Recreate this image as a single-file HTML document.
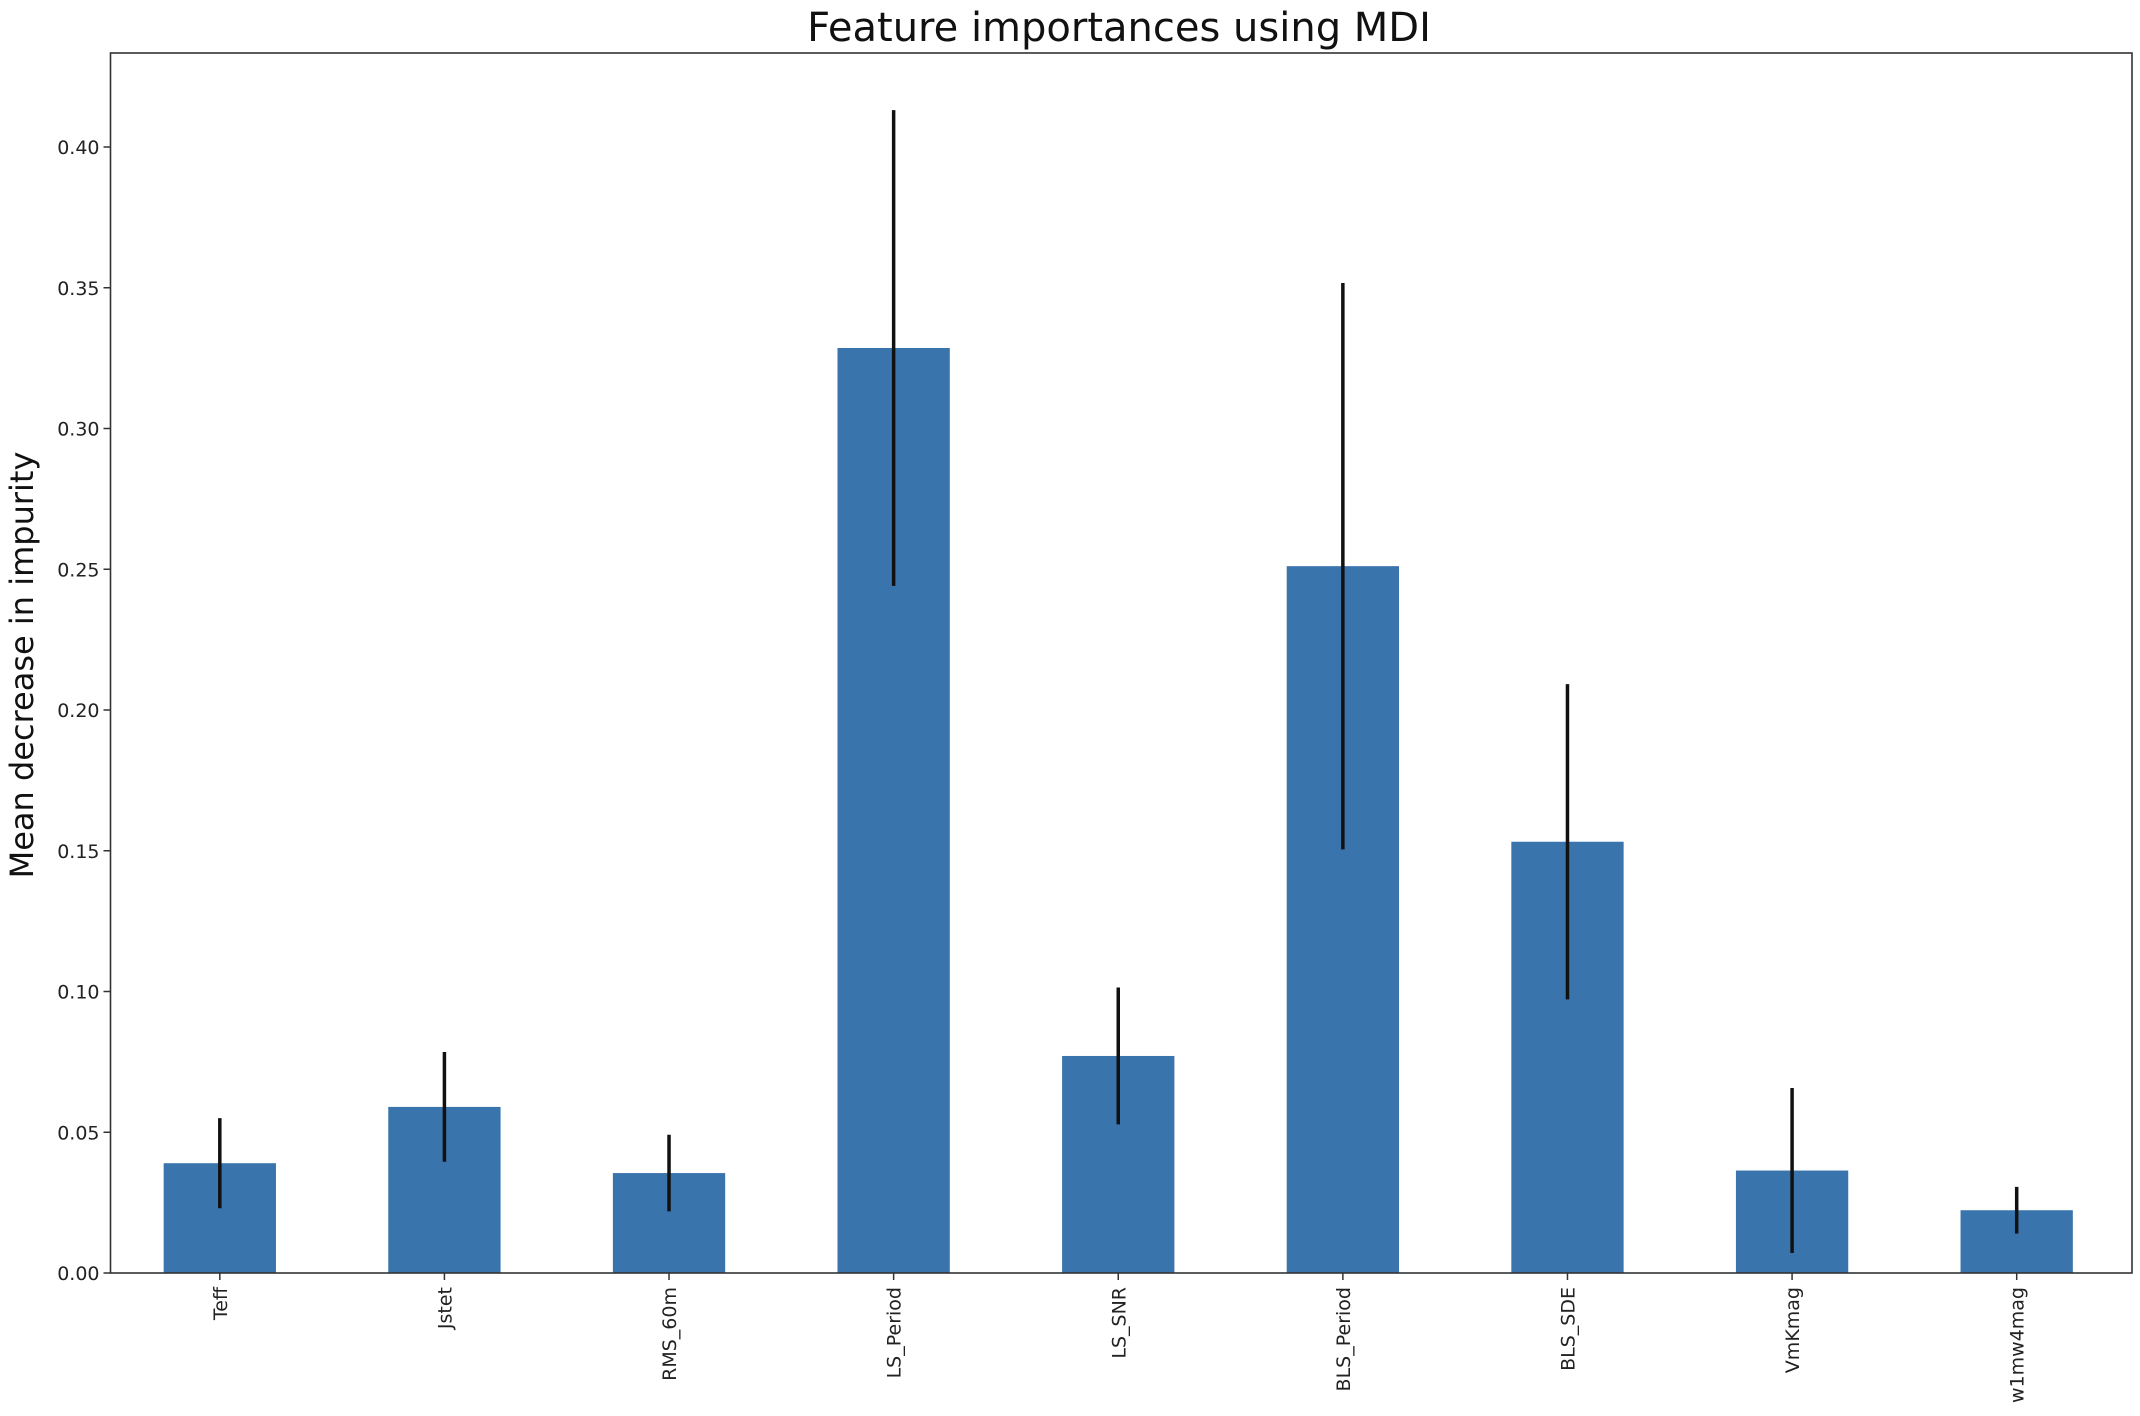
<!DOCTYPE html>
<html><head><meta charset="utf-8"><style>
body{margin:0;background:#fff}
svg{display:block;font-family:"DejaVu Sans","Liberation Sans",sans-serif}
</style></head><body>
<svg id="chart" width="2140" height="1416" viewBox="0 0 2140 1416">
<text x="1119" y="41" font-size="40" text-anchor="middle" fill="#111">Feature importances using MDI</text>
<text transform="translate(33,665) rotate(-90)" font-size="32" text-anchor="middle" fill="#111">Mean decrease in impurity</text>
<g id="bars"></g><g id="errs"></g><g id="axes"></g>
</svg>
<script>
const categories=["Teff","Jstet","RMS_60m","LS_Period","LS_SNR","BLS_Period","BLS_SDE","VmKmag","w1mw4mag"];
const importances=[0.039,0.059,0.0355,0.3286,0.0771,0.2511,0.1532,0.0364,0.0223];
const stdDevs=[0.016,0.0195,0.0136,0.0845,0.0243,0.1006,0.056,0.0293,0.0083];
const yTicks=[0,0.05,0.10,0.15,0.20,0.25,0.30,0.35,0.40];
const yTickLabels=["0.00","0.05","0.10","0.15","0.20","0.25","0.30","0.35","0.40"];
const L=110.5,R=2132,T=53,B=1273;
const NS="http://www.w3.org/2000/svg";
const step=(R-L)/categories.length;
function xc(i){return L-3+step*(i+0.5);}
function y(v){return B-v*(B-147)/0.40;}
function mk(t,a,p){const e=document.createElementNS(NS,t);for(const k in a)e.setAttribute(k,a[k]);p.appendChild(e);return e;}
const gb=document.getElementById('bars'),ge=document.getElementById('errs'),ga=document.getElementById('axes');
categories.forEach((c,i)=>{
  const r=mk('rect',{x:xc(i)-step/4,y:y(importances[i]),width:step/2,height:B-y(importances[i]),fill:'#3a74ad'},gb);
  
  
  const l=mk('line',{x1:xc(i),x2:xc(i),y1:y(importances[i]+stdDevs[i]),y2:y(importances[i]-stdDevs[i]),stroke:'#111','stroke-width':3.5},ge);
  
  
  mk('line',{x1:xc(i),x2:xc(i),y1:B,y2:B+7,stroke:'#333','stroke-width':1.5},ga);
  const t=mk('text',{transform:`translate(${xc(i)+7},${B+14}) rotate(-90)`,'font-size':19,'text-anchor':'end',fill:'#222'},ga);
  t.textContent=c;
  
  
});
yTicks.forEach((v,i)=>{
  mk('line',{x1:L-7,x2:L,y1:y(v),y2:y(v),stroke:'#333','stroke-width':1.5},ga);
  const t=mk('text',{x:L-11,y:y(v)+7,'font-size':19,'text-anchor':'end',fill:'#222'},ga);
  t.textContent=yTickLabels[i];
  
  
});
const fr=mk('rect',{x:L,y:T,width:R-L,height:B-T,fill:'none',stroke:'#333','stroke-width':1.6},ga);


</script>
</body></html>
